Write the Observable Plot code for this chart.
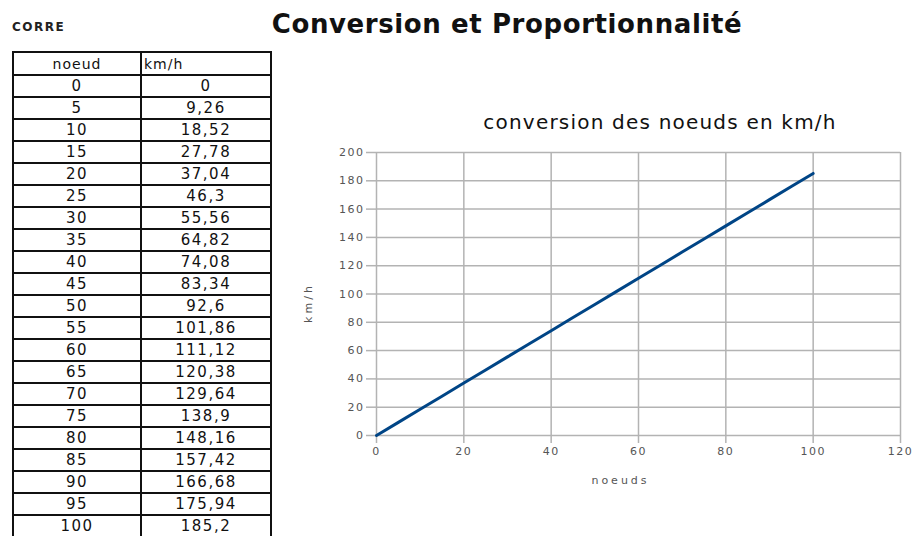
<!DOCTYPE html>
<html><head><meta charset="utf-8">
<script src="https://cdn.jsdelivr.net/npm/d3@7"></script>
<script src="https://cdn.jsdelivr.net/npm/@observablehq/plot@0.6"></script>
<style>
html,body{margin:0;padding:0;background:#fff;width:915px;height:536px;overflow:hidden;position:relative;font-family:"DejaVu Sans",sans-serif;}
#corre{position:absolute;left:12px;top:20px;font:bold 12px "DejaVu Sans",sans-serif;letter-spacing:1.5px;color:#222;}
#title{position:absolute;left:200px;top:9px;width:614px;text-align:center;font:bold 26px "DejaVu Sans",sans-serif;letter-spacing:0.6px;color:#111;white-space:nowrap;}
#ctitle{position:absolute;left:460px;top:110px;width:400px;text-align:center;font:20px "DejaVu Sans",sans-serif;letter-spacing:1.2px;color:#111;white-space:nowrap;}
table{position:absolute;left:12px;top:51px;border-collapse:collapse;table-layout:fixed;}
td{border:2px solid #111;width:126px;height:20px;padding:0;text-align:center;font:15px "DejaVu Sans",sans-serif;letter-spacing:1.5px;color:#111;line-height:18px;}
tr.h td{height:21px;letter-spacing:1px;font-size:14px;}
td.l{text-align:left;padding-left:2px;}
#chart{position:absolute;left:300px;top:140px;}
#chart svg text{letter-spacing:1.5px;}
#chart svg g.lab text{letter-spacing:3px;}
</style></head><body>
<div id="corre">CORRE</div>
<div id="title">Conversion et Proportionnalité</div>
<div id="ctitle">conversion des noeuds en km/h</div>
<table id="tbl"></table>
<div id="chart"></div>
<script>
const headers = ["noeud", "km/h"];
const noeuds = [0,5,10,15,20,25,30,35,40,45,50,55,60,65,70,75,80,85,90,95,100];
const kmh = [0,9.26,18.52,27.78,37.04,46.3,55.56,64.82,74.08,83.34,92.6,101.86,111.12,120.38,129.64,138.9,148.16,157.42,166.68,175.94,185.2];
const xTicks = [0,20,40,60,80,100,120];
const yTicks = [0,20,40,60,80,100,120,140,160,180,200];
const xLabel = "noeuds";
const yLabel = "km/h";

// table
const tbl = document.getElementById("tbl");
const hr = tbl.insertRow(); hr.className = "h";
headers.forEach((h,i)=>{const c=hr.insertCell(); c.textContent=h; if(i===1) c.className="l";});
noeuds.forEach((n,i)=>{
  const r = tbl.insertRow();
  r.insertCell().textContent = String(n);
  r.insertCell().textContent = String(kmh[i]).replace(".", ",");
});

const data = noeuds.map((n,i)=>({n, k: kmh[i]}));
const grid = "#b3b3b3";
const chart = Plot.plot({
  width: 615, height: 360,
  marginLeft: 76, marginRight: 15, marginTop: 12, marginBottom: 65,
  style: {fontFamily: "DejaVu Sans, sans-serif", fontSize: "11px", background: "transparent"},
  x: {domain: [0,120]},
  y: {domain: [0,200]},
  marks: [
    Plot.gridX(xTicks, {stroke: grid, strokeOpacity: 1, strokeWidth: 1.5}),
    Plot.gridY(yTicks, {stroke: grid, strokeOpacity: 1, strokeWidth: 1.5}),
    Plot.axisX(xTicks, {tickSize: 8, tickPadding: 4, stroke: grid, strokeWidth: 1.5, fill: "#555", label: null, fontSize: 11}),
    Plot.axisY(yTicks, {tickSize: 10, tickPadding: 2, stroke: grid, strokeWidth: 1.5, fill: "#555", label: null, fontSize: 11}),
    Plot.text([xLabel], {frameAnchor: "bottom", dx: -18, dy: 48, fill: "#555", fontSize: 11, className: "lab"}),
    Plot.text([yLabel], {frameAnchor: "left", textAnchor: "middle", dx: -68, dy: 9, rotate: -90, fill: "#555", fontSize: 11, className: "lab"}),
    Plot.line(data, {x: "n", y: "k", stroke: "#004586", strokeWidth: 3})
  ]
});
document.getElementById("chart").append(chart);
</script>
</body></html>
